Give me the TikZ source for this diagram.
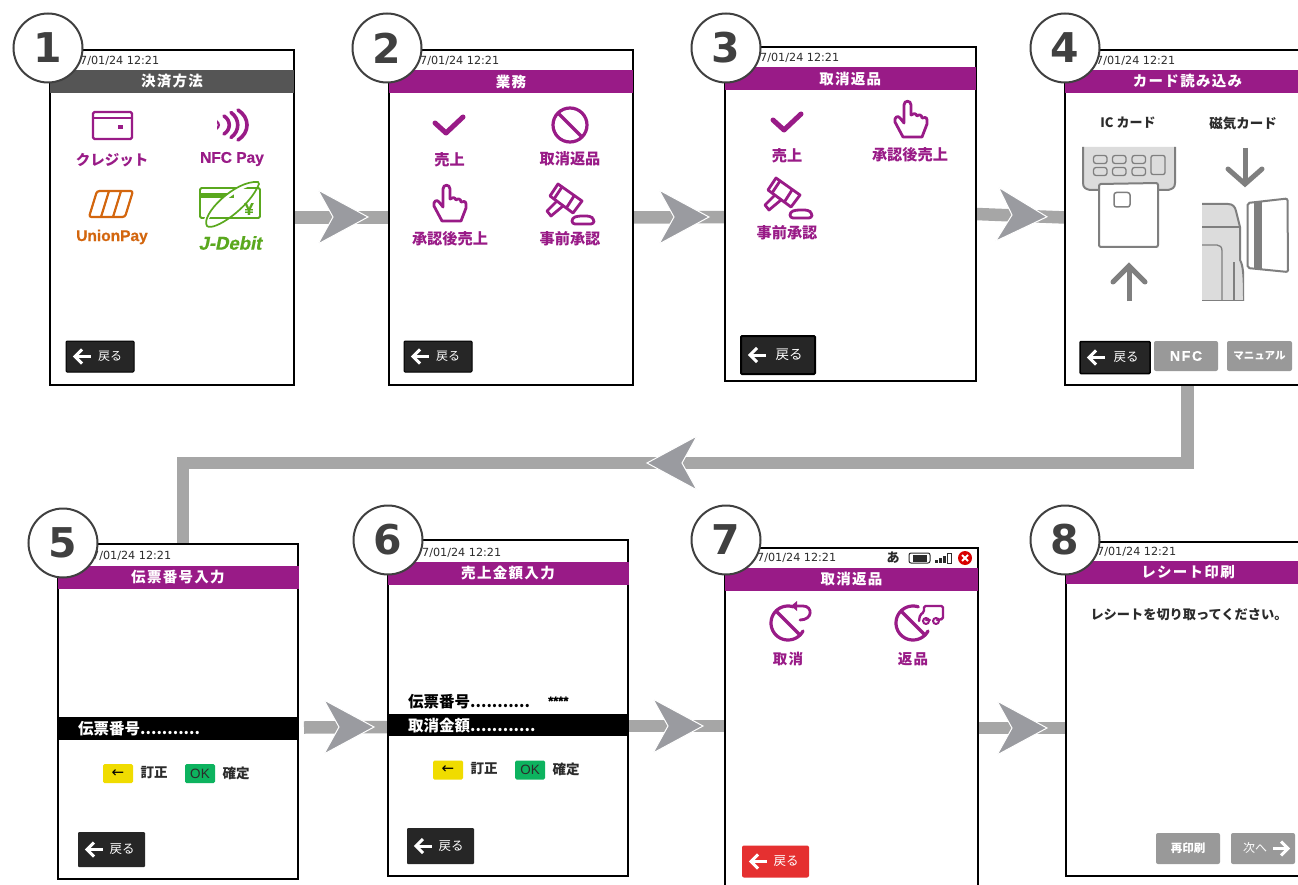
\documentclass[tikz,border=0pt]{standalone}
\usepackage{fontspec}
\setmainfont{Noto Sans CJK JP}
\newfontfamily\djv{DejaVu Sans}
\newfontfamily\libs{Liberation Sans}
\newfontfamily\libsb[FakeBold=0.6]{Liberation Sans Bold}
\newfontfamily\libsbi[FakeBold=0.8,FakeSlant=0.2]{Liberation Sans Bold}
\usetikzlibrary{backgrounds}
\definecolor{purp}{HTML}{991B87}
\definecolor{hdrgray}{HTML}{555555}
\definecolor{conngray}{HTML}{A6A6A6}
\definecolor{headgray}{HTML}{9A9BA0}
\definecolor{iconline}{HTML}{7F7F7F}
\definecolor{devgray}{HTML}{DCDCDC}
\definecolor{btnblack}{HTML}{262626}
\definecolor{btngray}{HTML}{999999}
\definecolor{btnred}{HTML}{E53030}
\definecolor{keyy}{HTML}{F0DC00}
\definecolor{keyg}{HTML}{0DB35F}
\definecolor{upor}{HTML}{D3660E}
\definecolor{jgreen}{HTML}{5AA81E}
\definecolor{txt}{HTML}{2B2B2B}
\newcommand{\fsz}[1]{\fontsize{#1}{#1}\selectfont}
\newcommand{\titletext}[1]{\bfseries\fsz{14.5}\addfontfeature{LetterSpace=9}#1}
\tikzset{
 screenbox/.style={draw=black,fill=white,line width=2pt,inner sep=0pt,outer sep=0pt},
 hdrbar/.style={fill=purp,text=white,inner sep=0pt,outer sep=0pt,minimum height=23pt},
 datetxt/.style={anchor=west,inner sep=0pt,text=txt,font=\djv\fsz{11.2}},
 lab/.style={inner sep=0pt,text=purp,font=\bfseries\fsz{15.2}},
 darklab/.style={inner sep=0pt,text=txt,font=\bfseries\fsz{13.5}},
 numcirc/.style={circle,draw=black!75,fill=white,line width=2pt,minimum size=69pt,inner sep=0pt,text=black!75,font=\djv\bfseries\fsz{41}},
 conn/.style={draw=conngray,line width=12.5pt,line join=miter},
 btn/.style={inner sep=0pt,outer sep=0pt,rounded corners=1pt},
 btnarrow/.style={draw=white,line width=3pt,line join=miter},
 graybtn/.style={btn,fill=btngray,rounded corners=2pt,text=white},
 keybox/.style={inner sep=0pt,rounded corners=1.5pt,minimum width=30pt,minimum height=19pt},
 icn/.style={draw=purp,line width=3.2pt,line join=round,line cap=round},
 dev/.style={draw=iconline,line width=2pt},
 chevron/.pic={\filldraw[fill=headgray,draw=white,line width=1pt] (-25,-27)--(25,0)--(-25,27)--(-10,0)--cycle;},
 iconcheck/.pic={\draw[icn,line width=5pt] (-14,-2)--(-3,8)--(14,-8);},
 iconban/.pic={\draw[icn] (0,0) circle [radius=17pt]; \draw[icn] (-12,-12)--(12,12);},
 iconhand/.pic={\draw[icn,line width=2.8pt] (-7,17)--(-15,2) .. controls (-16,-3) and (-12,-5) .. (-10,-2)--(-6,3)--(-6,-15) .. controls (-6,-20) and (1,-20) .. (1,-15)--(1,-5) .. controls (3,-7) and (6,-7) .. (7,-4) .. controls (9,-6) and (12,-5) .. (12,-2) .. controls (14,-3) and (17,-3) .. (17,0)--(17,4)--(12,17)--cycle;},
 icongavel/.pic={\draw[icn,line width=2.8pt] (-12,-20)--(-20,-8)--(3,9)--(12,-3)--cycle;
   \draw[icn,line width=2.8pt] (-8,-17)--(-16,-5) (4,-8)--(-3,3);
   \draw[icn,line width=2.8pt] (-13,-3)--(-23,7)--(-19,12)--(-7,2);
   \draw[icn,line width=2.8pt,rounded corners=3pt] (2,20)--(2,14)--(8,12)--(20,12)--(24,15)--(24,20)--cycle;},
}
\newcommand{\backbtn}[8]{%
 \node[btn,#6,minimum width=#4pt,minimum height=#5pt] (#1) at (#2,#3) {};
 \draw[btnarrow] ([xshift=9pt]#1.west) -- ([xshift=25pt]#1.west);
 \draw[btnarrow] ([shift={(16,-7)}]#1.west) -- ([shift={(9,0)}]#1.west) -- ([shift={(16,7)}]#1.west);
 \node[inner sep=0pt,text=white,font=\fsz{#7}] (#1t) at ([xshift=#8pt]#1.west) {戻る};
}
\begin{document}
\begin{tikzpicture}[x=1pt,y=-1pt]
\useasboundingbox (0,0) rectangle (1298,885);
% screens
\node[screenbox,minimum width=244pt,minimum height=335pt] (s1) at (172,217.5) {};
\node[screenbox,minimum width=244pt,minimum height=335pt] (s2) at (511,217.5) {};
\node[screenbox,minimum width=251.5pt,minimum height=334pt] (s3) at (850.25,214) {};
\node[screenbox,minimum width=245pt,minimum height=335pt] (s4) at (1187.5,217.5) {};
\node[screenbox,minimum width=240pt,minimum height=335pt] (s5) at (178,711.5) {};
\node[screenbox,minimum width=240pt,minimum height=336pt] (s6) at (508,708) {};
\node[screenbox,minimum width=253pt,minimum height=352pt] (s7) at (851.5,724) {};
\node[screenbox,minimum width=244pt,minimum height=334pt] (s8) at (1188,709) {};
% headers
\node[hdrbar,fill=hdrgray,minimum width=244pt] (h1) at (172,81.5) {\titletext{決済方法}};
\node[hdrbar,minimum width=244pt] (h2) at (511,81.5) {\titletext{業務}};
\node[hdrbar,minimum width=251.5pt] (h3) at (850.25,78.5) {\titletext{取消返品}};
\node[hdrbar,minimum width=245pt] (h4) at (1187.5,81.5) {\titletext{カード読み込み}};
\node[hdrbar,minimum width=241pt] (h5) at (178,577.5) {\titletext{伝票番号入力}};
\node[hdrbar,minimum width=241pt] (h6) at (508,573.5) {\titletext{売上金額入力}};
\node[hdrbar,minimum width=253pt] (h7) at (851.5,579) {\titletext{取消返品}};
\node[hdrbar,minimum width=244pt] (h8) at (1188,572) {\titletext{レシート印刷}};
% dates
\node[datetxt] (d1) at (80,61) {7/01/24 12:21};
\node[datetxt] (d2) at (420,61) {7/01/24 12:21};
\node[datetxt] (d3) at (760,58) {7/01/24 12:21};
\node[datetxt] (d4) at (1096,61) {7/01/24 12:21};
\node[datetxt] (d5) at (92,556) {7/01/24 12:21};
\node[datetxt] (d6) at (422,553) {7/01/24 12:21};
\node[datetxt] (d7) at (757,558) {7/01/24 12:21};
\node[datetxt] (d8) at (1097,552) {7/01/24 12:21};
% screen 1
\draw[icn,line width=2.4pt,rounded corners=1.5pt] (93,112) rectangle (132,139);
\draw[icn,line width=2.4pt] (93,118)--(132,118);
\fill[purp] (118,125) rectangle (123,129);
\fill[purp] (217,120) .. controls (221,123) and (221,127) .. (217,130) -- (217,127) .. controls (218,126) and (218,124) .. (217,123) -- cycle;
\foreach \xa/\ha/\wa in {224/9/7,231/12.5/9,238/15/12}{
  \draw[draw=purp,line width=3.6pt,line cap=round] (\xa,125-\ha) .. controls (\xa+\wa,125-\ha/2) and (\xa+\wa,125+\ha/2) .. (\xa,125+\ha);
}
\node[lab,font=\bfseries\fsz{14.5}] (l1a) at (112,160) {クレジット};
\node[inner sep=0pt,text=purp,font=\libsb\fsz{15.5}] (l1b) at (232,159) {NFC Pay};
\draw[draw=upor,line width=2.2pt,rounded corners=2.5pt] (97,191)--(133,191)--(125,217)--(89,217)--cycle;
\draw[draw=upor,line width=2.2pt] (109,191)--(101,217) (121,191)--(113,217);
\node[inner sep=0pt,text=upor,font=\libsb\fsz{15.5}] (l1c) at (112,237) {UnionPay};
\draw[draw=jgreen,line width=1.8pt,rounded corners=1.5pt] (200,188) rectangle (260,218);
\fill[jgreen] (200,193) rectangle (234,198);
\node[inner sep=0pt,text=jgreen,font=\libsb\fsz{17}] (l1y) at (249,209) {¥};
\draw[draw=white,line width=4pt] (205,222) .. controls (212,205) and (240,184) .. (258,182);
\draw[draw=jgreen,line width=1.7pt] (258,182) .. controls (235,180) and (200,215) .. (207,226) .. controls (214,232) and (250,207) .. (259,184)--cycle;
\node[inner sep=0pt,text=jgreen,font=\libsbi\fsz{18.5}] (l1d) at (230,243) {J-Debit};
\backbtn{b1}{100}{356.5}{68}{31}{fill=btnblack,draw=black,line width=1pt}{12}{44}
% screen 2
\pic at (449,125) {iconcheck};
\pic at (570,125) {iconban};
\pic at (449,204) {iconhand};
\pic at (570,204) {icongavel};
\node[lab] (l2a) at (449.5,160) {売上};
\node[lab] (l2b) at (570,159) {取消返品};
\node[lab] (l2c) at (450,239) {承認後売上};
\node[lab] (l2d) at (570,239) {事前承認};
\backbtn{b2}{438}{356.5}{68}{31}{fill=btnblack,draw=black,line width=1pt}{12}{44}
% screen 3
\pic at (787,122) {iconcheck};
\pic at (910,120) {iconhand};
\pic at (788,198) {icongavel};
\node[lab] (l3a) at (787,156) {売上};
\node[lab] (l3b) at (910,155) {承認後売上};
\node[lab] (l3c) at (787,233) {事前承認};
\backbtn{b3}{778}{355}{74}{38}{fill=btnblack,draw=black,line width=2pt}{13.5}{48}
% screen 4
\node[darklab,font=\bfseries\fsz{13}] (l4a) at (1128,123) {IC カード};
\node[darklab] (l4b) at (1243,123) {磁気カード};
\fill[devgray] (1083,147)--(1175,147)--(1175,183) .. controls (1175,188) and (1172,189) .. (1168,190)--(1090,190) .. controls (1086,189) and (1083,188) .. (1083,183)--cycle;
\draw[dev] (1083,147)--(1083,183) .. controls (1083,188) and (1086,189) .. (1090,190)--(1099,190);
\draw[dev] (1175,147)--(1175,183) .. controls (1175,188) and (1172,189) .. (1168,190)--(1158,190);
\foreach \kx in {1093.5,1112.5,1132}{
  \draw[dev,line width=1.3pt,rounded corners=2.5pt] (\kx,155.5) rectangle +(13.5,8);
  \draw[dev,line width=1.3pt,rounded corners=2.5pt] (\kx,167.5) rectangle +(13.5,8);
}
\draw[dev,line width=1.3pt,rounded corners=2pt] (1151,155.5) rectangle (1165,174.5);
\draw[dev,fill=white,rounded corners=2pt] (1099,184)--(1158,183)--(1158,247)--(1099,247)--cycle;
\draw[dev,line width=1.5pt,rounded corners=2.5pt] (1114,192.5) rectangle (1130,207);
\draw[draw=iconline,line width=5pt] (1129,301)--(1129,265);
\draw[draw=iconline,line width=5pt,line cap=round] (1113,282)--(1129,266)--(1145,282);
\draw[draw=iconline,line width=5pt] (1245,148)--(1245,183);
\draw[draw=iconline,line width=5pt,line cap=round] (1228,169)--(1245,184)--(1262,169);
\begin{scope}
\clip (1202,200) rectangle (1244,300.5);
\filldraw[dev,fill=devgray] (1200,204)--(1228,204) .. controls (1233,204) and (1235,207) .. (1236,211)--(1240,227)--(1240,260) .. controls (1243,265) and (1244,275) .. (1244,301)--(1200,301)--cycle;
\draw[dev] (1200,227)--(1240,227);
\draw[dev,line width=1.3pt] (1200,245)--(1217,245) .. controls (1220,245) and (1222,247) .. (1222,251)--(1222,301);
\draw[dev] (1234,301)--(1234,262);
\end{scope}
\draw[dev,fill=white,rounded corners=2pt] (1247.5,203)--(1287.5,198.5)--(1288,272)--(1247.5,268)--cycle;
\fill[iconline] (1254,202) rectangle (1262,269);
\backbtn{b4}{1115}{357.5}{70}{32}{fill=btnblack,draw=black,line width=1.5pt}{12.5}{46}
\node[graybtn,minimum width=64pt,minimum height=30pt,font=\libsb\fsz{14}\addfontfeature{LetterSpace=12}] (b4b) at (1186,356) {NFC};
\node[graybtn,minimum width=65pt,minimum height=30pt,font=\bfseries\fsz{10.5}] (b4c) at (1259.5,356) {マニュアル};
% screen 5
\node[fill=black,minimum width=240pt,minimum height=23pt,inner sep=0pt,outer sep=0pt] (bar5) at (178,728.5) {};
\node[anchor=west,inner sep=0pt,text=white,font=\bfseries\fsz{15.5}] (t5) at (78,729) {伝票番号...........};
\node[keybox,fill=keyy,font=\djv\fsz{15}] (k5a) at (118,773.5) {←};
\node[darklab] (t5a) at (154,773) {訂正};
\node[keybox,fill=keyg,font=\libs\fsz{13.5},text=txt] (k5b) at (200,773.5) {OK};
\node[darklab] (t5b) at (236,773) {確定};
\backbtn{b5}{111.5}{849.5}{67}{35}{fill=btnblack}{12.5}{44}
% screen 6
\node[anchor=west,inner sep=0pt,text=black,font=\bfseries\fsz{15.5}] (t6a) at (408,702) {伝票番号...........};
\node[anchor=west,inner sep=0pt,text=black,font=\libsb\fsz{13}] (t6b) at (548,701) {****};
\node[fill=black,minimum width=240pt,minimum height=22pt,inner sep=0pt,outer sep=0pt] (bar6) at (508,725) {};
\node[anchor=west,inner sep=0pt,text=white,font=\bfseries\fsz{15.5}] (t6c) at (408,726) {取消金額............};
\node[keybox,fill=keyy,font=\djv\fsz{15}] (k6a) at (448,770) {←};
\node[darklab] (t6d) at (484,769) {訂正};
\node[keybox,fill=keyg,font=\libs\fsz{13.5},text=txt] (k6b) at (530,770) {OK};
\node[darklab] (t6e) at (566,769) {確定};
\backbtn{b6}{440.5}{846}{67}{36}{fill=btnblack}{12.5}{44}
% screen 7
\node[inner sep=0pt,text=txt,font=\bfseries\fsz{13}] (st7) at (893,558) {あ};
\draw[draw=txt,line width=1pt,rounded corners=2pt] (909,553) rectangle (930,563);
\fill[txt] (912.5,554.5) rectangle (927,561.5);
\foreach \bx/\bt in {935/560,939/558,943/556}{\fill[txt] (\bx,\bt) rectangle (\bx+3,563);}
\draw[draw=txt,line width=.5pt] (947,553.5) rectangle (951,563);
\fill[red!85!black] (965,558) circle [radius=7pt];
\draw[draw=white,line width=2pt] (962,555)--(968,561) (968,555)--(962,561);
\begin{scope}[shift={(788,623)}]
\draw[icn] plot[domain=28:288,samples=40,smooth] ({17*cos(\x)},{17*sin(\x)});
\draw[icn] (-12,-12)--(12,12);
\draw[icn,line width=2.8pt] (8,-17)--(15,-17) .. controls (25,-17) and (25,-3) .. (12,-3);
\fill[purp] (3,-17)--(9,-22)--(9,-12)--cycle;
\end{scope}
\begin{scope}[shift={(913,623)}]
\draw[icn] plot[domain=28:288,samples=40,smooth] ({17*cos(\x)},{17*sin(\x)});
\draw[icn] (-12,-12)--(12,12);
\draw[icn,line width=2.4pt,rounded corners=1.5pt] (6,-2)--(7,-8)--(11,-11)--(11,-17)--(30,-17)--(30,-4)--(24,-3)  (17,-3)--(13,-3);
\draw[icn,line width=2pt] (13,-2) circle [radius=3pt];
\draw[icn,line width=2pt] (23,-2) circle [radius=3pt];
\end{scope}
\node[lab,font=\bfseries\fsz{14.5}\addfontfeature{LetterSpace=8}] (l7a) at (788,659) {取消};
\node[lab,font=\bfseries\fsz{14.5}\addfontfeature{LetterSpace=8}] (l7b) at (913,659) {返品};
\backbtn{b7}{775.5}{861.5}{67}{32}{fill=btnred,rounded corners=2pt}{12.5}{44}
% screen 8
\node[darklab,font=\bfseries\fsz{13.2}] (t8a) at (1189,615) {レシートを切り取ってください。};
\node[graybtn,minimum width=64pt,minimum height=31pt,font=\bfseries\fsz{11.5}] (b8a) at (1188,848.5) {再印刷};
\node[graybtn,minimum width=64pt,minimum height=31pt] (b8b) at (1263,848.5) {};
\node[inner sep=0pt,text=white,font=\fsz{12}] (b8c) at (1255,848) {次へ};
\draw[btnarrow] ([xshift=-22pt]b8b.east) -- ([xshift=-7pt]b8b.east);
\draw[btnarrow] ([shift={(-14,-7)}]b8b.east) -- ([shift={(-7,0)}]b8b.east) -- ([shift={(-14,7)}]b8b.east);
% connectors
\coordinate (jr) at (1187.5,463);
\coordinate (jl) at (183,463);
\begin{scope}[on background layer]
\fill[white] (0,0) rectangle (1298,885);
\draw[conn] (s1.east) -- (s2.west);
\draw[conn] (s2.east) -- ([yshift=-3pt]s3.west);
\draw[conn] (s3.east) -- (s4.west);
\draw[conn] (s4.south) -- (jr) -- (jl) -- ([xshift=5pt]s5.north);
\draw[conn] ([shift={(6,16)}]s5.east) -- ([yshift=-19pt]s6.west);
\draw[conn] ([yshift=-18pt]s6.east) -- ([yshift=-2pt]s7.west);
\draw[conn] ([yshift=-4pt]s7.east) -- ([yshift=-19pt]s8.west);
\pic at (343,217) {chevron};
\pic at (684,217) {chevron};
\pic[rotate=-3] at (1022,215.5) {chevron};
\pic[xscale=-1] at (672,463) {chevron};
\pic at (349,727) {chevron};
\pic at (678,726) {chevron};
\pic at (1022,728) {chevron};
\end{scope}
% number badges
\node[numcirc] (c1) at (48,48) {1};
\node[numcirc] (c2) at (387,48) {2};
\node[numcirc] (c3) at (726,48) {3};
\node[numcirc] (c4) at (1065,48) {4};
\node[numcirc] (c5) at (63,543) {5};
\node[numcirc] (c6) at (388,540) {6};
\node[numcirc] (c7) at (726,540) {7};
\node[numcirc] (c8) at (1065,540) {8};
\end{tikzpicture}
\end{document}
